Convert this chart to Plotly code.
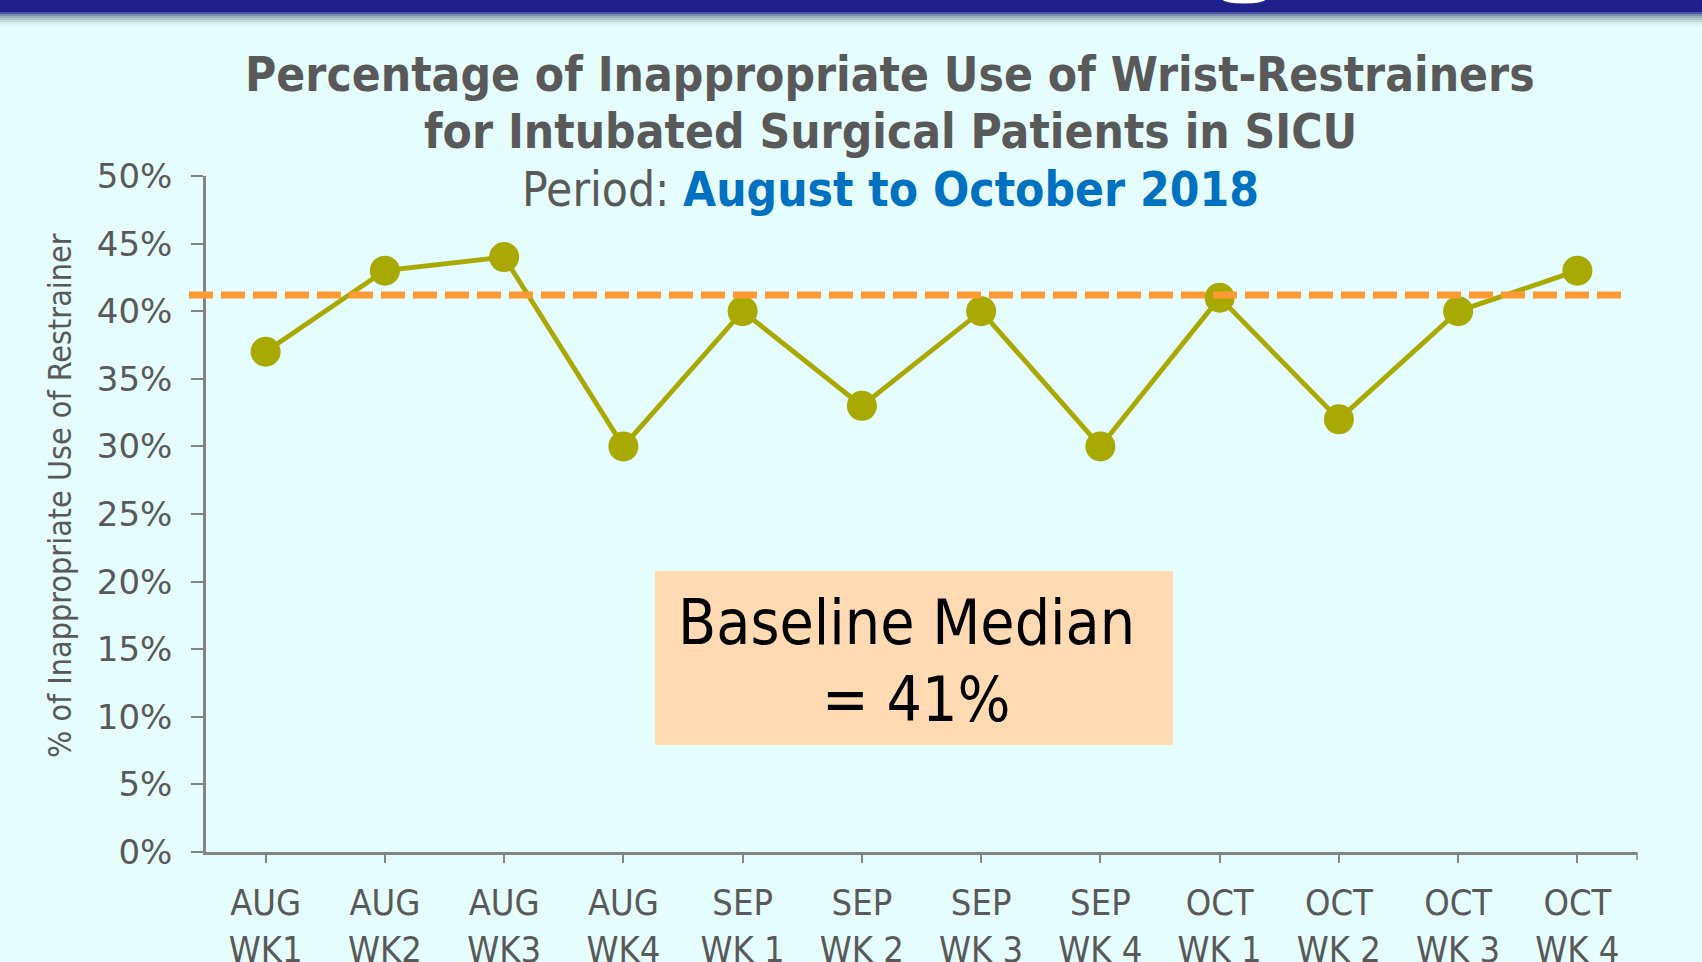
import plotly.graph_objects as go

# ---- data ----
months = ["AUG", "AUG", "AUG", "AUG", "SEP", "SEP", "SEP", "SEP", "OCT", "OCT", "OCT", "OCT"]
weeks = ["WK1", "WK2", "WK3", "WK4", "WK 1", "WK 2", "WK 3", "WK 4", "WK 1", "WK 2", "WK 3", "WK 4"]
pct_inappropriate = [37, 43, 44, 30, 40, 33, 40, 30, 41, 32, 40, 43]
baseline_median = 41.2
median_label = "41%"
title_line1 = "Percentage of Inappropriate Use of Wrist-Restrainers"
title_line2 = "for Intubated Surgical Patients in SICU"
period_prefix = "Period: "
period_text = "August to October 2018"
y_title = "% of Inappropriate Use of Restrainer"

categories = [f"{m}<br>{w}" for m, w in zip(months, weeks)]

W, H = 1702, 962
L, R, T, B = 206, 65, 176, 110
PW, PH = W - L - R, H - T - B

def px_x(px):
    return (px - L) / PW

def px_y(py):
    return (H - B - py) / PH

BG = "#E5FDFD"
GRAY = "#595959"
AXIS = "#848484"
OLIVE = "#A9A904"

fig = go.Figure()
fig.add_trace(go.Scatter(
    x=list(range(len(categories))), y=pct_inappropriate, mode="lines+markers",
    line=dict(color=OLIVE, width=4.8),
    marker=dict(color=OLIVE, size=30),
    showlegend=False, hoverinfo="skip",
))

shapes = []
# top navy band
shapes.append(dict(type="rect", xref="paper", yref="paper", x0=px_x(0), x1=px_x(W),
                   y0=px_y(12), y1=px_y(0), fillcolor="#1F1F8B", line=dict(width=0), layer="above"))
grad = ["#4B55A0", "#7C8DB0", "#99AFBA", "#AFC6C8", "#C2DADA", "#D3ECEC", "#DDF6F6"]
for i, c in enumerate(grad):
    shapes.append(dict(type="rect", xref="paper", yref="paper", x0=px_x(0), x1=px_x(W),
                       y0=px_y(13 + 2 * i + 2), y1=px_y(12 + 2 * i), fillcolor=c,
                       line=dict(width=0), layer="above"))
# white cut-off glyph in the header band
shapes.append(dict(type="circle", xref="paper", yref="paper", x0=px_x(1223), x1=px_x(1265),
                   y0=px_y(3.5), y1=px_y(-4), fillcolor="#FFFFFF", line=dict(width=0), layer="above"))
# baseline median dashed line
shapes.append(dict(type="line", xref="paper", yref="y", x0=px_x(189), x1=px_x(1623),
                   y0=baseline_median, y1=baseline_median,
                   line=dict(color="#FF9933", width=7, dash="24px,8px"), layer="above"))
# extra tick at right end of x axis
shapes.append(dict(type="line", xref="paper", yref="paper", x0=1, x1=1,
                   y0=0, y1=px_y(H - B + 8), line=dict(color=AXIS, width=1.5)))
# baseline median box
shapes.append(dict(type="rect", xref="paper", yref="paper", x0=px_x(655), x1=px_x(1173),
                   y0=px_y(745), y1=px_y(571), fillcolor="#FFDAB3", line=dict(width=0), layer="below"))

annotations = [
    dict(text=f"<b>{title_line1}</b>", x=px_x(890), y=px_y(74), xref="paper", yref="paper",
         showarrow=False, xanchor="center", yanchor="middle",
         font=dict(family="DejaVu Sans Condensed", size=47.5, color=GRAY)),
    dict(text=f"<b>{title_line2}</b>", x=px_x(890), y=px_y(131), xref="paper", yref="paper",
         showarrow=False, xanchor="center", yanchor="middle",
         font=dict(family="DejaVu Sans Condensed", size=47.5, color=GRAY)),
    dict(text=f"{period_prefix}<b><span style='color:#0070C0'>{period_text}</span></b>",
         x=px_x(890), y=px_y(189), xref="paper", yref="paper",
         showarrow=False, xanchor="center", yanchor="middle",
         font=dict(family="DejaVu Sans Condensed", size=47.5, color=GRAY)),
    dict(text=y_title, x=px_x(60), y=px_y(496), xref="paper", yref="paper", textangle=-90,
         showarrow=False, xanchor="center", yanchor="middle",
         font=dict(family="DejaVu Sans Condensed", size=32, color=GRAY)),
    dict(text="Baseline Median", x=px_x(906), y=px_y(622), xref="paper", yref="paper",
         showarrow=False, xanchor="center", yanchor="middle",
         font=dict(family="DejaVu Sans Condensed", size=62, color="#000000")),
    dict(text=f"= {median_label}", x=px_x(916), y=px_y(699), xref="paper", yref="paper",
         showarrow=False, xanchor="center", yanchor="middle",
         font=dict(family="DejaVu Sans Condensed", size=62, color="#000000")),
]

fig.update_layout(
    width=W, height=H, autosize=False,
    margin=dict(l=L, r=R, t=T, b=B, pad=0, autoexpand=False),
    paper_bgcolor=BG, plot_bgcolor=BG,
    shapes=shapes, annotations=annotations,
    xaxis=dict(
        range=[-0.5, len(categories) - 0.5], automargin=False,
        tickmode="array", tickvals=list(range(len(categories))), ticktext=categories,
        showgrid=False, zeroline=False,
        showline=True, linecolor=AXIS, linewidth=2.5,
        ticks="outside", ticklen=8, tickwidth=1.5, tickcolor=AXIS,
        tickfont=dict(family="DejaVu Sans Condensed", size=36, color=GRAY),
        ticklabelstandoff=9,
    ),
    yaxis=dict(
        range=[0, 50], dtick=5, tick0=0, ticksuffix="%", automargin=False,
        showgrid=False, zeroline=False,
        showline=True, linecolor=AXIS, linewidth=2.5,
        ticks="outside", ticklen=12, tickwidth=2, tickcolor=AXIS,
        tickfont=dict(family="DejaVu Sans", size=34, color=GRAY),
        ticklabelstandoff=12,
    ),
)

fig.write_html(
    "out.html",
    config={"displayModeBar": False},
    post_script="document.body.style.margin='0';document.body.style.padding='0';"
                "document.body.style.overflow='hidden';",
)
